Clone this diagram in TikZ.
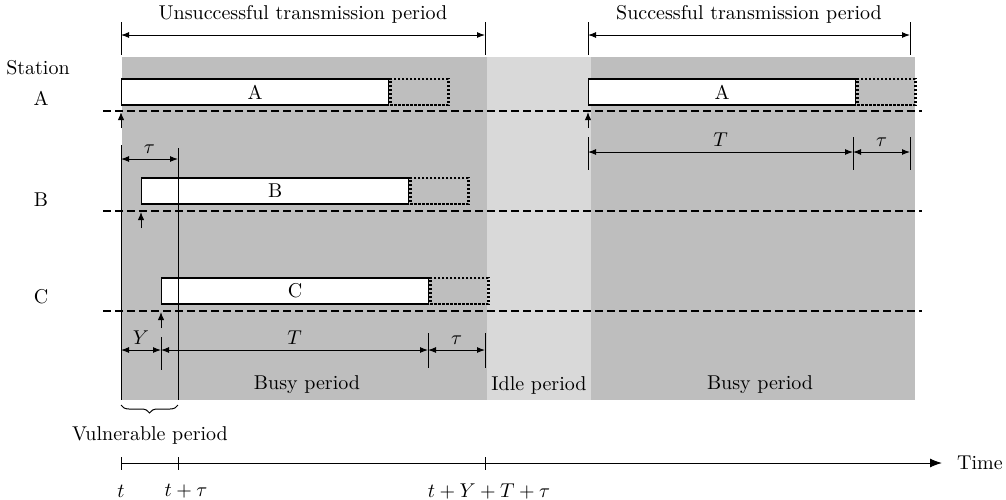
\documentclass[tikz,border=0pt]{standalone}
\usetikzlibrary{arrows.meta,positioning,decorations.pathreplacing}
\definecolor{busygray}{RGB}{190,190,190}
\definecolor{idlegray}{RGB}{217,217,217}

\begin{document}
\begin{tikzpicture}[x=0.5pt,y=-0.5pt,>={Latex[length=4pt,width=3pt]},
                    line width=0.5pt]
  \tikzstyle{pkt}=[draw,fill=white,line width=0.6pt,minimum width=133.5pt,
                   minimum height=13pt,inner sep=0pt]
  \tikzstyle{tail}=[draw,line width=1.2pt,dash pattern=on 1.1pt off 0.9pt,
                    minimum width=29pt,minimum height=13pt,inner sep=0pt]
  \tikzstyle{chan}=[line width=1pt,dash pattern=on 4pt off 2pt]
  \tikzstyle{dim}=[<->]
  \tikzstyle{sense}=[->,>={Latex[length=4pt,width=3.2pt]}]

  \useasboundingbox (0,0) rectangle (1006,499);

  % busy / idle background
  \fill[busygray] (122,57) rectangle (487,400);
  \fill[idlegray] (487,57) rectangle (591,400);
  \fill[busygray] (591,57) rectangle (915,400);

  % stations and channel lines
  \node (station) at (38,68) {Station};
  \foreach \s/\y/\ly in {A/111/98,B/211/200,C/311/297}{
    \node (st\s) at (41,\ly) {\s};
    \draw[chan] (103,\y) -- (922,\y);
  }

  % frames
  \node[pkt,anchor=west] (pA) at (121,92) {A};
  \node[tail,right=0pt of pA] (qA) {};
  \node[pkt,anchor=west] (pB) at (141,191) {B};
  \node[tail,right=0pt of pB] (qB) {};
  \node[pkt,anchor=west] (pC) at (161,291) {C};
  \node[tail,right=0pt of pC] (qC) {};
  \node[pkt,anchor=west] (pA2) at (588,92) {A};
  \node[tail,right=0pt of pA2] (qA2) {};

  % carrier sense arrows
  \foreach \x/\y in {121/111,141/211,161/311,588/111}
    \draw[sense] (\x,\y+17) -- (\x,\y+1);

  % unsuccessful / successful periods
  \foreach \x in {121,485,588,910}
    \draw (\x,22) -- (\x,55);
  \draw[dim] (121,35) -- node[above=2pt] (unsucc) {Unsuccessful transmission period} (485,35);
  \draw[dim] (588,35) -- node[above=2pt] (succ) {Successful transmission period} (910,35);

  % vulnerable window
  \draw (121,145) -- (121,400);
  \draw (178,148) -- (178,400);
  \draw[dim] (121,159) -- node[above=-1pt] (tauB) {$\tau$} (178,159);

  % successful frame dimensions
  \foreach \x in {588,853,910}
    \draw (\x,137) -- (\x,170);
  \draw[dim] (588,152) -- node[above=-1pt] (Tok) {$T$} (853,152);
  \draw[dim] (853,152) -- node[above=-1pt] (tauok) {$\tau$} (910,152);

  % collided frame dimensions
  \draw (161,337) -- (161,370);
  \foreach \x in {428,485}
    \draw (\x,333) -- (\x,368);
  \draw[dim] (121,350) -- node[above=-1pt] (Y) {$Y$} (161,350);
  \draw[dim] (161,350) -- node[above=-1pt] (Tc) {$T$} (428,350);
  \draw[dim] (428,350) -- node[above=-1pt] (tauc) {$\tau$} (485,350);

  \node (busy1) at (307,385) {Busy period};
  \node (idle) at (539,385) {Idle period};
  \node (busy2) at (760,385) {Busy period};

  \draw[decorate,decoration={brace,mirror,amplitude=4pt}] (121,405) -- (178,405);
  \node (vuln) at (150,435) {Vulnerable period};

  % time axis
  \draw[-{Latex[length=6pt,width=4.5pt]}] (121,463) -- (942,463)
    node[right=4pt] (time) {Time};
  \foreach \x in {121,178,485}
    \draw (\x,457) -- (\x,470);
  \node (t0) at (121,491) {$t$};
  \node (t1) at (186,491) {$t+\tau$};
  \node (t2) at (489,491) {$t+Y+T+\tau$};
\end{tikzpicture}
\end{document}
